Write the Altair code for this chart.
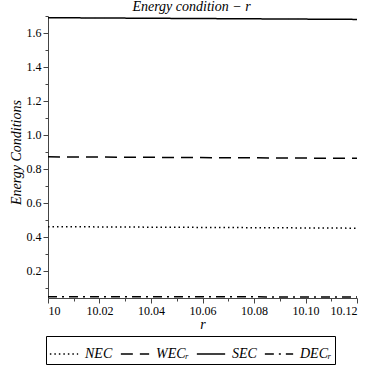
import altair as alt
import pandas as pd

# data (each series is almost constant)
r_vals = [10.0, 10.12]
nec = [0.460, 0.451]
wec = [0.871, 0.862]
sec = [1.690, 1.680]
dec = [0.048, 0.046]

series_names = ["NEC", "WEC", "SEC", "DEC"]
x_ticks = [10.0, 10.02, 10.04, 10.06, 10.08, 10.10, 10.12]
x_minor = [10.01, 10.03, 10.05, 10.07, 10.09, 10.11]
y_ticks = [0.2, 0.4, 0.6, 0.8, 1.0, 1.2, 1.4, 1.6]
y_minor = [0.1, 0.3, 0.5, 0.7, 0.9, 1.1, 1.3, 1.5, 1.7]

rows = []
for name, vals in zip(series_names, [nec, wec, sec, dec]):
    for r, v in zip(r_vals, vals):
        rows.append({"r": r, "value": v, "series": name})
df = pd.DataFrame(rows)

FONT = "Liberation Serif"
xscale = alt.Scale(domain=[10.0, 10.12], nice=False, zero=False)
yscale = alt.Scale(domain=[0.04, 1.70], nice=False, zero=False)

lines = alt.Chart(df).mark_line(color="black", strokeWidth=1.5, clip=True).encode(
    x=alt.X("r:Q", scale=xscale,
            axis=alt.Axis(values=x_ticks, title="r", orient="bottom",
                          labelFont=FONT, titleFont=FONT,
                          labelExpr="datum.value == 10 ? '10' : format(datum.value, '.2f')",
                          titleFontStyle="italic", titleFontWeight="normal",
                          titleBaseline="alphabetic", titleY=30)),
    y=alt.Y("value:Q", scale=yscale,
            axis=alt.Axis(values=y_ticks, format=".1f", title="Energy Conditions", orient="left",
                          labelFont=FONT, titleFont=FONT,
                          titleFontStyle="italic", titleFontWeight="normal",
                          titleX=-25, titleY=136)),
    strokeDash=alt.StrokeDash(
        "series:N",
        scale=alt.Scale(domain=series_names,
                        range=[[1.5, 3], [12, 7], [1, 0], [9, 5, 2, 5]]),
        legend=alt.Legend(
            title=None, orient="none", legendX=-2, legendY=320,
            direction="horizontal", columns=4, gridAlign="none",
            symbolType="stroke", symbolSize=800, symbolStrokeWidth=1.5,
            symbolStrokeColor="black",
            labelFont=FONT, labelFontStyle="italic", labelFontSize=14,
            labelColor="black", labelOffset=6, columnPadding=4,
            strokeColor="black", padding=3,
            labelExpr="datum.label == 'WEC' ? 'WECᵣ' : (datum.label == 'DEC' ? 'DECᵣ' : datum.label)",
        ),
    ),
    detail="series:N",
)

minor_df = pd.DataFrame({"r": [10.0], "value": [0.5]})
minor = alt.Chart(minor_df).mark_point(opacity=0).encode(
    x=alt.X("r:Q", scale=xscale,
            axis=alt.Axis(values=x_minor, labels=False, title=None, domain=False,
                          tickSize=3, orient="bottom")),
    y=alt.Y("value:Q", scale=yscale,
            axis=alt.Axis(values=y_minor, labels=False, title=None, domain=False,
                          tickSize=3, orient="left")),
)

chart = alt.layer(lines, minor).resolve_axis(x="independent", y="independent").properties(
    width=309, height=282,
    autosize=alt.AutoSizeParams(type="none"),
    padding={"left": 48, "top": 16, "right": 14, "bottom": 70},
    title=alt.Title("Energy condition − r", font=FONT, fontStyle="italic",
                    fontWeight="normal", fontSize=14, offset=2, dx=-11, color="black"),
).configure_view(stroke=None).configure_axis(
    grid=False, domainColor="#444", tickColor="#444", tickSize=5,
    labelFontSize=12, labelColor="black", labelPadding=2,
    titleFontSize=14, titleColor="black",
)

chart.save("out.html", embed_options={"renderer": "svg", "actions": False})
